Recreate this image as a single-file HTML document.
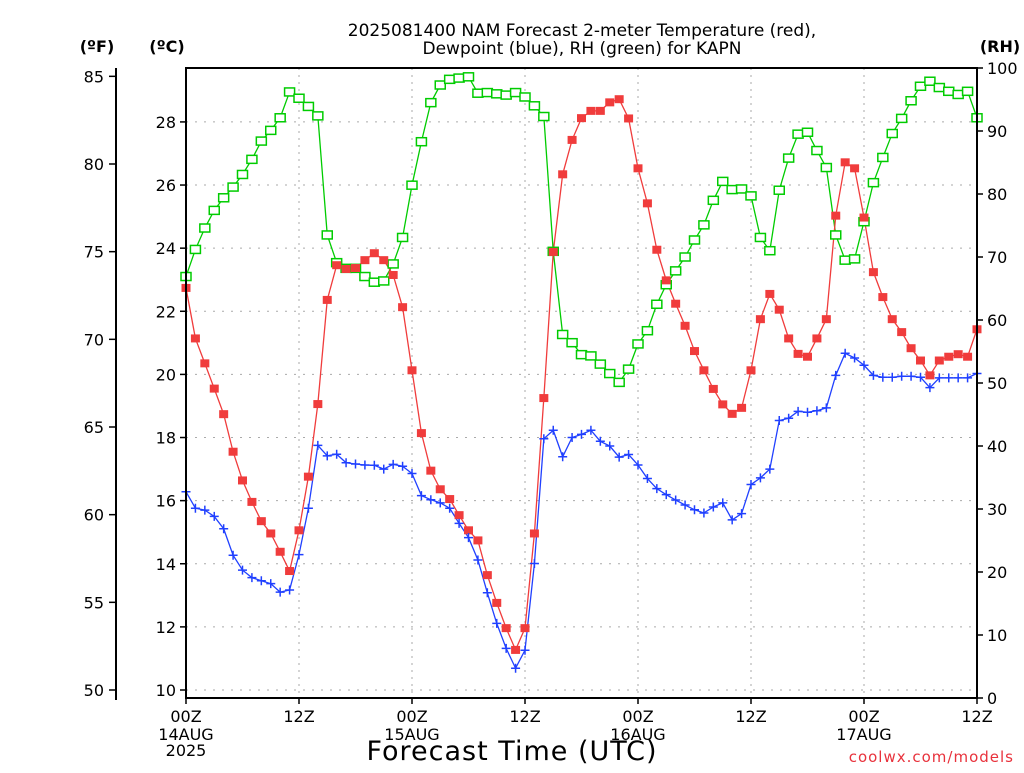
<!DOCTYPE html>
<html><head><meta charset="utf-8"><style>
body{margin:0;background:#fff;}
svg text{font-family:"DejaVu Sans","Liberation Sans",sans-serif;}
</style></head><body>
<svg id="chart" width="1024" height="768" xmlns="http://www.w3.org/2000/svg">
<rect width="1024" height="768" fill="#fff"/>
<g id="grid"></g>
<g id="series"></g>
<rect x="186" y="68" width="791" height="630" fill="none" stroke="#000" stroke-width="2"/>
<line x1="116" y1="68" x2="116" y2="700" stroke="#000" stroke-width="2"/>
<g id="axes"></g>
<text x="582" y="36" font-size="17" text-anchor="middle">2025081400 NAM Forecast 2-meter Temperature (red),</text>
<text x="582" y="54" font-size="17" text-anchor="middle">Dewpoint (blue), RH (green) for KAPN</text>
<text x="97" y="52" font-size="16" font-weight="bold" text-anchor="middle">(ºF)</text>
<text x="167" y="52" font-size="16" font-weight="bold" text-anchor="middle">(ºC)</text>
<text x="1000" y="52" font-size="16" font-weight="bold" text-anchor="middle">(RH)</text>
<text x="512" y="760" font-size="27" text-anchor="middle" letter-spacing="1">Forecast Time (UTC)</text>
<text x="1014" y="762" font-size="15" fill="#e8323c" text-anchor="end" letter-spacing="1">coolwx.com/models</text>
</svg>
<script>
const tempC=[22.74,21.14,20.35,19.55,18.74,17.55,16.64,15.96,15.35,14.96,14.38,13.77,15.06,16.76,19.06,22.36,23.46,23.34,23.37,23.62,23.84,23.62,23.15,22.13,
20.13,18.14,16.95,16.36,16.05,15.54,15.06,14.74,13.64,12.76,11.96,11.27,11.96,14.96,19.25,23.88,26.34,27.43,28.12,
28.35,28.35,28.62,28.72,28.11,26.53,25.42,23.95,22.98,22.24,21.54,20.74,20.13,19.54,19.05,18.75,18.94,20.13,21.75,22.55,
22.05,21.14,20.65,20.56,21.14,21.75,25.03,26.72,26.53,24.97,23.24,22.45,21.75,21.34,20.83,20.44,19.97,20.44,20.56,20.64,20.56,21.43];
const dewC=[16.28,15.76,15.70,15.50,15.11,14.27,13.80,13.56,13.46,13.37,13.10,13.17,14.29,15.76,17.75,17.42,17.47,17.20,17.16,17.13,17.12,17.00,17.15,
17.09,16.86,16.16,16.03,15.93,15.76,15.28,14.83,14.12,13.08,12.11,11.32,10.69,11.26,14.01,17.96,18.23,17.39,18.00,18.10,
18.23,17.88,17.73,17.38,17.46,17.13,16.70,16.38,16.19,16.02,15.86,15.71,15.61,15.80,15.93,15.39,15.59,16.51,16.72,17.00,
18.54,18.61,18.83,18.80,18.85,18.94,19.97,20.67,20.52,20.29,19.97,19.91,19.91,19.94,19.94,19.91,19.58,19.89,19.89,19.89,19.89,20.03];
const rh=[66.9,71.2,74.6,77.4,79.4,81.1,83.1,85.5,88.4,90.1,92.1,96.2,95.2,93.9,92.4,73.5,69.1,68.2,68.2,66.9,66.0,66.2,68.9,73.1,
81.4,88.3,94.5,97.3,98.2,98.4,98.6,96.0,96.1,95.9,95.7,96.1,95.4,94.0,92.3,70.9,57.7,56.4,54.5,
54.3,53.0,51.5,50.1,52.2,56.2,58.3,62.5,65.6,67.8,70.0,72.7,75.1,79.0,82.0,80.7,80.8,79.7,73.1,71.0,
80.6,85.7,89.5,89.8,86.9,84.2,73.5,69.5,69.7,75.6,81.8,85.8,89.6,92.0,94.8,97.1,97.9,96.9,96.3,95.8,96.3,92.1];
const fTicks=[50,55,60,65,70,75,80,85];
const cTicks=[10,12,14,16,18,20,22,24,26,28];
const rhTicks=[0,10,20,30,40,50,60,70,80,90,100];
const timeTicks=[0,12,24,36,48,60,72,84];
const timeLabels=["00Z","12Z","00Z","12Z","00Z","12Z","00Z","12Z"];
const dateLabels={0:["14AUG","2025"],24:["15AUG"],48:["16AUG"],72:["17AUG"]};

const NS="http://www.w3.org/2000/svg";
const X0=186,X1=977,Y0=68,Y1=698;
const xS=h=>X0+(X1-X0)*h/84;
const yC=c=>690-(c-10)*31.56;
const yF=f=>yC((f-32)*5/9);
const yR=r=>Y1-(Y1-Y0)*r/100;
function mk(tag,attrs,parent){const e=document.createElementNS(NS,tag);for(const k in attrs)e.setAttribute(k,attrs[k]);parent.appendChild(e);return e;}
const grid=document.getElementById('grid'),axes=document.getElementById('axes'),ser=document.getElementById('series');
cTicks.forEach(c=>{
  const l=mk('line',{x1:X0,x2:X1,y1:yC(c),y2:yC(c),stroke:'#aaa','stroke-dasharray':'2 7'},grid);
  
  
  const t=mk('line',{x1:180,x2:186,y1:yC(c),y2:yC(c),stroke:'#000','stroke-width':1.5},axes);
  
  
  const tx=mk('text',{x:176,y:yC(c)+6,'font-size':16,'text-anchor':'end'},axes);tx.textContent=c;
  
  
});
fTicks.forEach(f=>{
  const t=mk('line',{x1:109,x2:116,y1:yF(f),y2:yF(f),stroke:'#000','stroke-width':1.5},axes);
  
  
  const tx=mk('text',{x:104,y:yF(f)+6,'font-size':16,'text-anchor':'end'},axes);tx.textContent=f;
  
  
});
rhTicks.forEach(r=>{
  const t=mk('line',{x1:977,x2:983,y1:yR(r),y2:yR(r),stroke:'#000','stroke-width':1.5},axes);
  
  
  const tx=mk('text',{x:987,y:yR(r)+6,'font-size':16},axes);tx.textContent=r;
  
  
});
timeTicks.forEach((h,i)=>{
  if(h>0&&h<84){const l=mk('line',{x1:xS(h),x2:xS(h),y1:Y0,y2:Y1,stroke:'#aaa','stroke-dasharray':'2 5'},grid);
  
  }
  const t=mk('line',{x1:xS(h),x2:xS(h),y1:Y1,y2:Y1+6,stroke:'#000','stroke-width':1.5},axes);
  
  
  const tx=mk('text',{x:xS(h),y:722,'font-size':16,'text-anchor':'middle'},axes);tx.textContent=timeLabels[i];
  
  
  (dateLabels[h]||[]).forEach((d,j)=>{const dt=mk('text',{x:xS(h),y:740+j*16,'font-size':16,'text-anchor':'middle'},axes);dt.textContent=d;
  
  });
});
function line(vals,yf,color,name){
  const p=mk('polyline',{points:vals.map((v,i)=>xS(i)+','+yf(v)).join(' '),fill:'none',stroke:color,'stroke-width':1.3},ser);
  
  
}
line(rh,yR,'#00cc00','rh-line');
line(tempC,yC,'#f03c3c','temperature-line');
line(dewC,yC,'#2040ff','dewpoint-line');
rh.forEach((v,i)=>{const m=mk('rect',{x:xS(i)-5,y:yR(v)-4,width:10,height:8,fill:'#fff',stroke:'#00cc00','stroke-width':1.5},ser);
  
  });
tempC.forEach((v,i)=>{const m=mk('rect',{x:xS(i)-4.5,y:yC(v)-4,width:9,height:8,fill:'#f03c3c'},ser);
  
  });
dewC.forEach((v,i)=>{const x=xS(i),y=yC(v);const m=mk('path',{d:`M${x-4.5},${y}H${x+4.5}M${x},${y-4.5}V${y+4.5}`,stroke:'#2040ff','stroke-width':1.5},ser);
  
  });
</script>
</body></html>
